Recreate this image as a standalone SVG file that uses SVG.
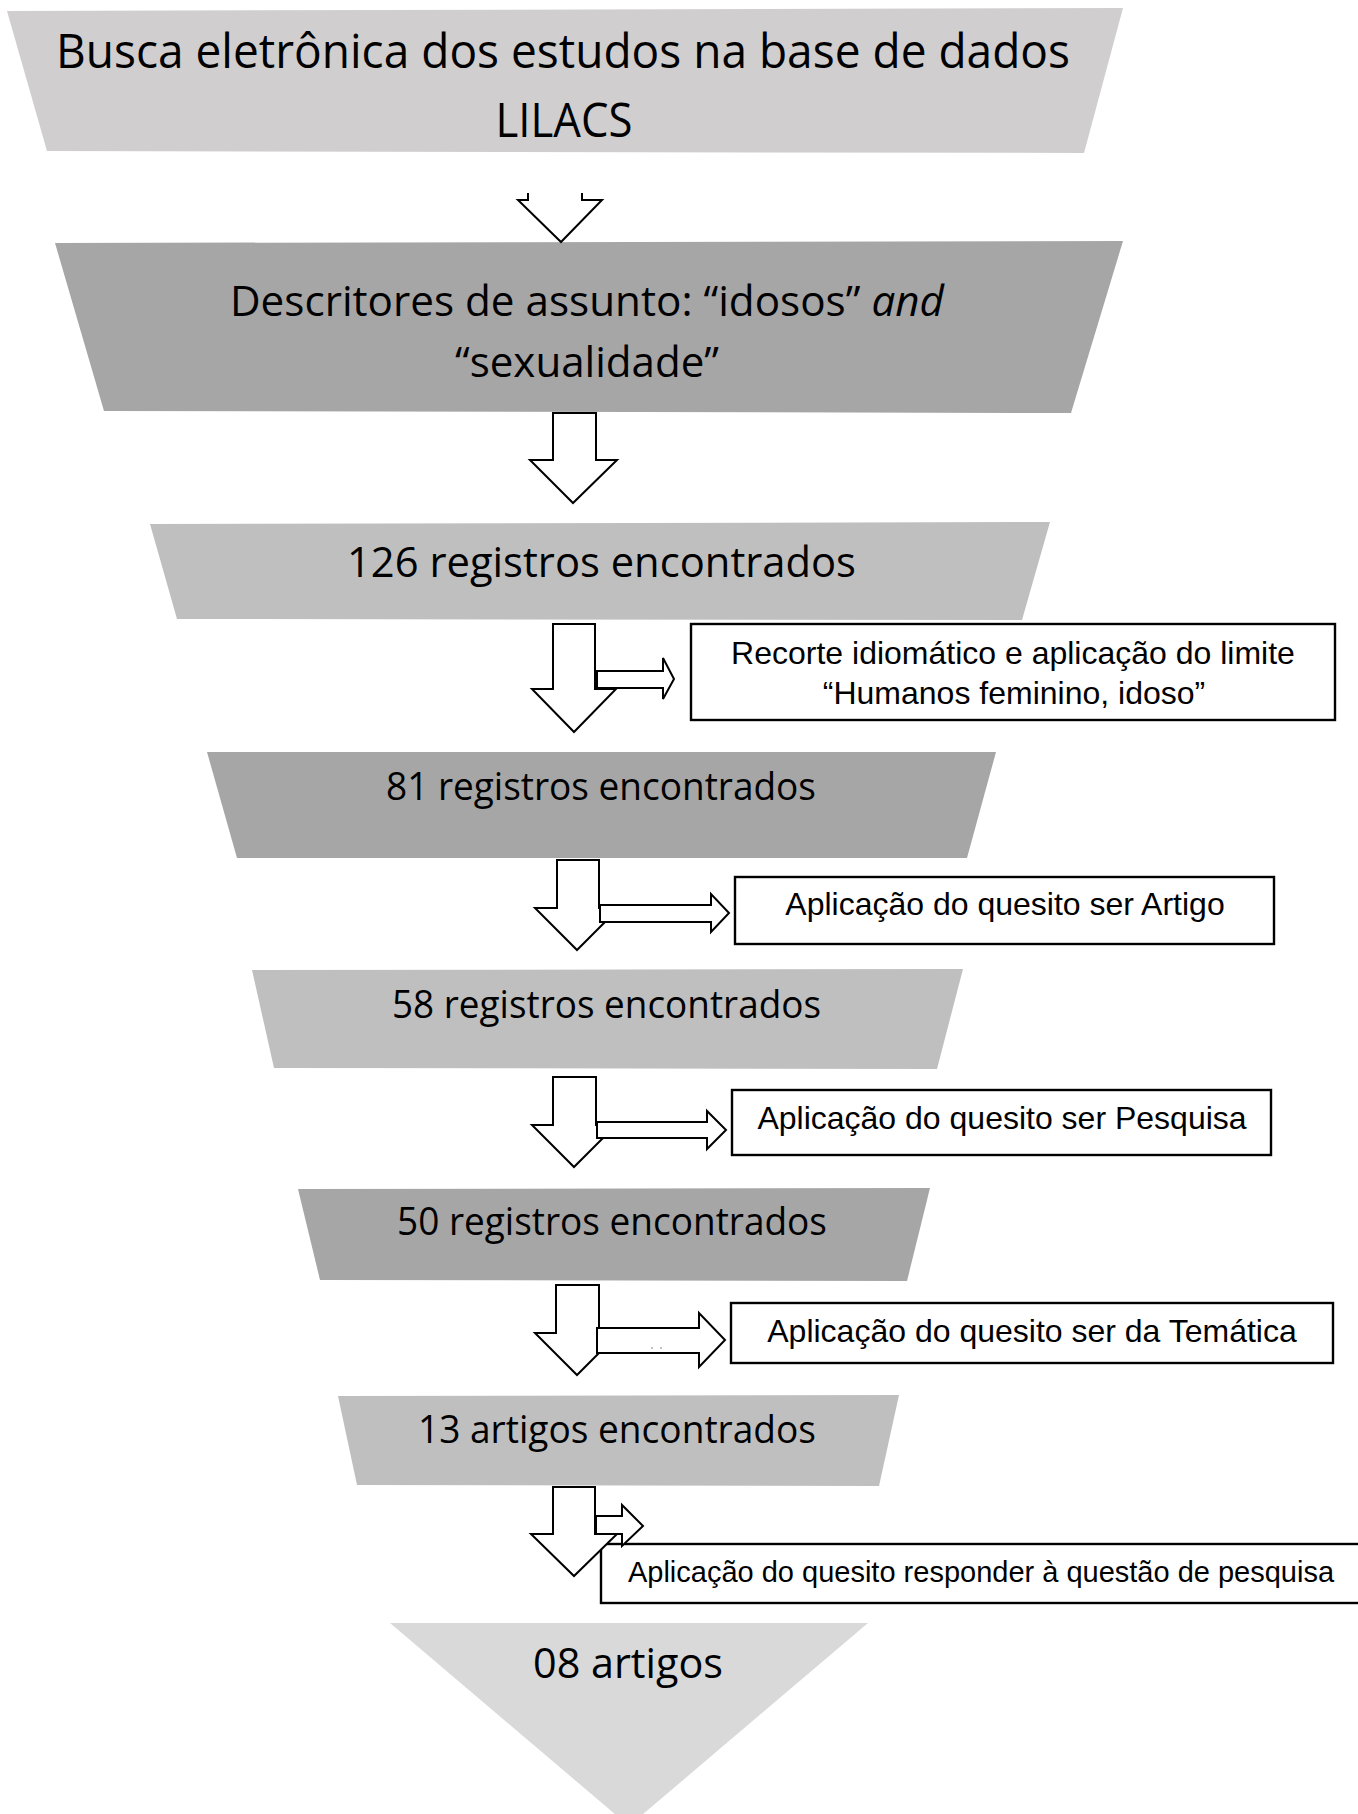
<svg xmlns="http://www.w3.org/2000/svg" width="1358" height="1814" viewBox="0 0 1358 1814">
<style>
.t{font-family:"Open Sans","Noto Sans","Liberation Sans",sans-serif;fill:#000;text-anchor:middle}
.b{font-family:"Liberation Sans",Arial,sans-serif;fill:#000;text-anchor:middle;font-size:32px}
.box{fill:#fff;stroke:#000;stroke-width:2.4}
.arr{fill:#fff;stroke:#000;stroke-width:2;stroke-linejoin:miter}
.g1{fill:#d0cece}.g2{fill:#a6a6a6}.g3{fill:#bfbfbf}.g4{fill:#d9d9d9}
</style>
<rect width="1358" height="1814" fill="#fff"/>

<g id="node-busca">
<polygon class="g1" points="7,11 1123,8 1084,153 47,151"/>
<text class="t" x="563" y="68" font-size="47" textLength="1014" lengthAdjust="spacingAndGlyphs">Busca eletrônica dos estudos na base de dados</text>
<text class="t" x="564" y="137" font-size="47" textLength="137" lengthAdjust="spacingAndGlyphs">LILACS</text>
</g>

<g id="node-descritores">
<polygon class="g2" points="55,243 1123,241 1071,413 104,411"/>
<text class="t" x="587" y="316" font-size="42" textLength="714" lengthAdjust="spacingAndGlyphs">Descritores de assunto: “idosos” <tspan font-style="italic">and</tspan></text>
<text class="t" x="587" y="377" font-size="42" textLength="264" lengthAdjust="spacingAndGlyphs">“sexualidade”</text>
</g>

<g id="node-126">
<polygon class="g3" points="150,524 1050,522 1022,620 177,619"/>
<text class="t" x="601.5" y="577" font-size="42" textLength="509" lengthAdjust="spacingAndGlyphs">126 registros encontrados</text>
</g>

<g id="node-81">
<polygon class="g2" points="207,752 996,752 967,858 237,858"/>
<text class="t" x="601" y="800" font-size="37.5" textLength="430" lengthAdjust="spacingAndGlyphs">81 registros encontrados</text>
</g>

<g id="node-58">
<polygon class="g3" points="252,970 963,969 937,1069 274,1068"/>
<text class="t" x="606.5" y="1018" font-size="37.5" textLength="429" lengthAdjust="spacingAndGlyphs">58 registros encontrados</text>
</g>

<g id="node-50">
<polygon class="g2" points="298,1189 930,1188 907,1281 320,1280"/>
<text class="t" x="612" y="1235" font-size="37.5" textLength="430" lengthAdjust="spacingAndGlyphs">50 registros encontrados</text>
</g>

<g id="node-13">
<polygon class="g3" points="338,1396 899,1395 879,1486 357,1485"/>
<text class="t" x="617" y="1443" font-size="37.5" textLength="398" lengthAdjust="spacingAndGlyphs">13 artigos encontrados</text>
</g>

<g id="node-08">
<polygon class="g4" points="390,1623 868,1623 629,1826"/>
<text class="t" x="628" y="1678" font-size="42" textLength="190" lengthAdjust="spacingAndGlyphs">08 artigos</text>
</g>

<g id="connectors">
<path class="arr" d="M528,193 L528,200 L518,200 L561,242 L602,200 L582,200 L582,193"/>
<polygon class="arr" points="553,413 596,413 596,460 617,460 573,503 530,460 553,460"/>
<polygon class="arr" points="553,624 595,624 595,689 616,689 574,732 532,689 553,689"/>
<polygon class="arr" points="597,671 663,671 663,658 674,679 663,699 663,688 597,688"/>
<polygon class="arr" points="557,860 599,860 599,908 619,908 577,950 535,908 557,908"/>
<polygon class="arr" points="600,905 711,905 711,894 729,913 711,932 711,922 600,922"/>
<polygon class="arr" points="553,1077 596,1077 596,1125 616,1125 574,1167 532,1125 553,1125"/>
<polygon class="arr" points="597,1122 707,1122 707,1111 726,1130 707,1149 707,1138 597,1138"/>
<polygon class="arr" points="556,1285 599,1285 599,1333 619,1333 577,1375 535,1333 556,1333"/>
<polygon class="arr" points="597,1328 699,1328 699,1313 725,1340 699,1367 699,1353 597,1353"/>
<circle cx="652" cy="1348" r="0.8" fill="#777"/>
<circle cx="661" cy="1348" r="0.8" fill="#777"/>
</g>

<g id="node-recorte">
<rect class="box" x="691" y="624" width="644" height="96"/>
<text class="b" x="1013" y="664">Recorte idiomático e aplicação do limite</text>
<text class="b" x="1014" y="704">“Humanos feminino, idoso”</text>
</g>

<g id="node-artigo">
<rect class="box" x="735" y="877" width="539" height="67"/>
<text class="b" x="1005" y="915">Aplicação do quesito ser Artigo</text>
</g>

<g id="node-pesquisa">
<rect class="box" x="732" y="1090" width="539" height="65"/>
<text class="b" x="1002" y="1129">Aplicação do quesito ser Pesquisa</text>
</g>

<g id="node-tematica">
<rect class="box" x="731" y="1303" width="602" height="60"/>
<text class="b" x="1032" y="1342">Aplicação do quesito ser da Temática</text>
</g>

<g id="node-responder">
<rect class="box" x="601" y="1544" width="760" height="59"/>
<text class="b" x="981" y="1582" font-size="29" style="font-size:29px">Aplicação do quesito responder à questão de pesquisa</text>
</g>

<g id="connectors-last">
<polygon class="arr" points="553,1487 595,1487 595,1534 617,1534 574,1576 531,1534 553,1534"/>
<polygon class="arr" points="596,1516 622,1516 622,1505 643,1526 622,1546 622,1534 596,1534"/>
</g>
</svg>
